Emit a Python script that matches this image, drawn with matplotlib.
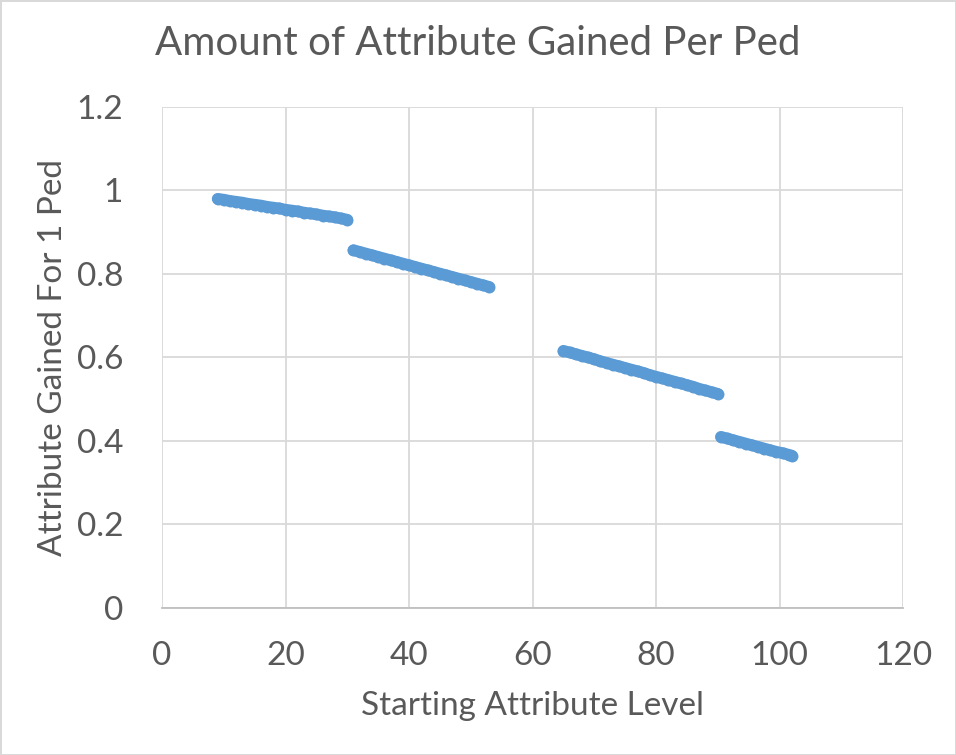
import matplotlib
matplotlib.use("Agg")
import matplotlib.pyplot as plt

# points, four separate runs
seg1_x = [9, 10, 11, 12, 13, 14, 15, 16, 17, 18, 19, 20, 21, 22, 23, 24, 25, 26, 27, 28, 29, 30]
seg1_y = [0.980, 0.978, 0.975, 0.973, 0.971, 0.968, 0.966, 0.964, 0.961, 0.959, 0.957,
          0.954, 0.952, 0.950, 0.947, 0.945, 0.943, 0.940, 0.938, 0.936, 0.933, 0.930]

seg2_x = [31, 32, 33, 34, 35, 36, 37, 38, 39, 40, 41, 42, 43, 44, 45, 46, 47, 48, 49, 50, 51, 52, 53]
seg2_y = [0.857, 0.853, 0.849, 0.845, 0.841, 0.837, 0.833, 0.829, 0.825, 0.821, 0.817, 0.813,
          0.809, 0.805, 0.801, 0.797, 0.793, 0.789, 0.785, 0.781, 0.777, 0.773, 0.769]

seg3_x = [65, 66, 67, 68, 69, 70, 71, 72, 73, 74, 75, 76, 77, 78, 79, 80, 81, 82, 83, 84, 85, 86, 87, 88, 89, 90]
seg3_y = [0.616, 0.612, 0.608, 0.604, 0.600, 0.596, 0.591, 0.587, 0.583, 0.579, 0.575, 0.571, 0.567,
          0.563, 0.558, 0.554, 0.550, 0.546, 0.542, 0.538, 0.534, 0.530, 0.525, 0.521, 0.517, 0.513]

seg4_x = [90.5, 91.5, 92.5, 93.5, 94.5, 95.5, 96.5, 97.5, 98.5, 99.5, 100.5, 101.5, 102]
seg4_y = [0.410, 0.406, 0.402, 0.398, 0.394, 0.390, 0.386, 0.382, 0.378, 0.374, 0.371, 0.367, 0.365]

x_ticks = [0, 20, 40, 60, 80, 100, 120]
y_ticks = [0, 0.2, 0.4, 0.6, 0.8, 1, 1.2]
y_tick_labels = ["0", "0.2", "0.4", "0.6", "0.8", "1", "1.2"]

text_col = "#595959"
grid_col = "#d9d9d9"
dot_col = "#5b9bd5"

plt.rcParams["font.family"] = ["Lato", "DejaVu Sans"]

fig = plt.figure(figsize=(9.56, 7.55), dpi=100, facecolor="white",
                 edgecolor=grid_col, linewidth=2)
ax = fig.add_axes([0.1695, 0.1947, 0.7751, 0.6636])

# the dots sit so close together that they read as a solid band
for sx, sy in [(seg1_x, seg1_y), (seg2_x, seg2_y), (seg3_x, seg3_y), (seg4_x, seg4_y)]:
    ax.plot(sx, sy, "-o", color=dot_col, lw=8.4, ms=8.6, mew=0,
            solid_capstyle="round", zorder=3)

ax.set_xlim(0, 120)
ax.set_ylim(0, 1.2)
ax.set_xticks(x_ticks)
ax.set_yticks(y_ticks)
ax.set_yticklabels(y_tick_labels)
ax.grid(True, color=grid_col, linewidth=1.3)
ax.set_axisbelow(True)
for side in ["top", "right", "left"]:
    ax.spines[side].set_visible(False)
ax.spines["bottom"].set_color("#bfbfbf")
ax.spines["bottom"].set_linewidth(1.3)
ax.tick_params(length=0, labelsize=24, colors=text_col)
ax.tick_params(axis="x", pad=24)
ax.tick_params(axis="y", pad=28)

ax.set_xlabel("Starting Attribute Level", fontsize=24, color=text_col, labelpad=14)
ax.set_ylabel("Attribute Gained For 1 Ped", fontsize=24, color=text_col, labelpad=6)
fig.suptitle("Amount of Attribute Gained Per Ped", fontsize=29, color=text_col,
             x=0.5, y=0.967, va="top")

fig.savefig("out.png", dpi=100, facecolor=fig.get_facecolor(), edgecolor=fig.get_edgecolor())
